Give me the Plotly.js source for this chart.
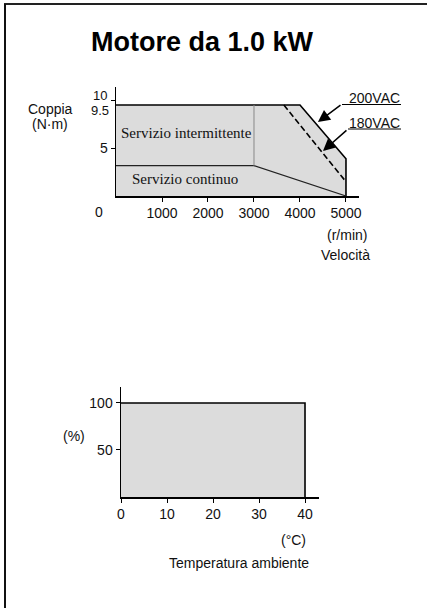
<!DOCTYPE html>
<html>
<head>
<meta charset="utf-8">
<script src="https://cdn.plot.ly/plotly-3.0.1.min.js"></script>
<style>html,body{margin:0;padding:0;background:#fff;}#chart{width:427px;height:608px;}</style>
</head>
<body>
<div id="chart"></div>
<script>
// Torque–speed curve (1.0 kW motor)
const peakSpeed = [0, 4000, 5000, 5000];      // r/min, 200VAC intermittent boundary
const peakTorque = [9.55, 9.55, 3.9, 0];       // N·m
const contSpeed = [0, 3000, 5000];             // r/min, continuous boundary
const contTorque = [3.18, 3.18, 0];            // N·m
const splitSpeed = [3000, 3000];
const splitTorque = [3.18, 9.55];
const vac180Speed = [3650, 5000];              // dashed 180VAC limit
const vac180Torque = [9.55, 1.5];
const speedTicks = [1000, 2000, 3000, 4000, 5000];
const torqueTicks = [5, 10];

// Ambient temperature derating
const tempX = [0, 40, 40];                     // °C
const ratioY = [100, 100, 0];                  // %
const tempTicks = [0, 10, 20, 30, 40];
const ratioTicks = [50, 100];

const W = 427, H = 608;
const px = x => x / W;
const py = y => 1 - y / H;
const sans = "'Liberation Sans', Arial, sans-serif";
const serif = "'Liberation Serif', 'Times New Roman', serif";
const fill = '#dcdcdc';

const traces = [
  {x: peakSpeed, y: peakTorque, xaxis: 'x', yaxis: 'y', mode: 'lines', fill: 'tozeroy', fillcolor: fill,
   line: {color: '#000', width: 1.6}},
  {x: contSpeed, y: contTorque, xaxis: 'x', yaxis: 'y', mode: 'lines', line: {color: '#222', width: 1.2}},
  {x: splitSpeed, y: splitTorque, xaxis: 'x', yaxis: 'y', mode: 'lines', line: {color: '#888', width: 1}},
  {x: vac180Speed, y: vac180Torque, xaxis: 'x', yaxis: 'y', mode: 'lines', line: {color: '#000', width: 1.6, dash: '6px,3px'}},
  {x: tempX, y: ratioY, xaxis: 'x2', yaxis: 'y2', mode: 'lines', fill: 'tozeroy', fillcolor: fill,
   line: {color: '#000', width: 1.6}}
];

const axBase = {showgrid: false, zeroline: false, showline: true, linecolor: '#000', linewidth: 1.5,
  ticks: 'outside', ticklen: 4, tickcolor: '#000', tickfont: {family: sans, size: 14, color: '#111'}, fixedrange: true};

function ann(text, x, y, size, extra) {
  return Object.assign({text: text, x: px(x), y: py(y), xref: 'paper', yref: 'paper', showarrow: false,
    xanchor: 'center', yanchor: 'middle', font: {family: sans, size: size, color: '#111'}}, extra || {});
}

const layout = {
  width: W, height: H, margin: {l: 0, r: 0, t: 0, b: 0}, paper_bgcolor: '#fff', plot_bgcolor: 'rgba(0,0,0,0)',
  showlegend: false,
  title: {text: '<b>Motore da 1.0 kW</b>', x: px(202), y: py(42), xanchor: 'center', yanchor: 'middle',
    xref: 'paper', yref: 'paper', font: {family: sans, size: 27, color: '#000'}},
  xaxis: Object.assign({}, axBase, {domain: [px(116), px(359)], range: [0, 5283], anchor: 'y',
    tickvals: speedTicks, ticktext: speedTicks.map(String)}),
  yaxis: Object.assign({}, axBase, {domain: [py(196), py(87)], range: [0, 11.44], anchor: 'x',
    tickvals: torqueTicks, ticktext: ['5', '']}),
  xaxis2: Object.assign({}, axBase, {domain: [px(121), px(319)], range: [0, 43.04], anchor: 'y2',
    tickvals: tempTicks, ticktext: tempTicks.map(String)}),
  yaxis2: Object.assign({}, axBase, {domain: [py(497), py(387)], range: [0, 117], anchor: 'x2',
    tickvals: ratioTicks, ticktext: ratioTicks.map(String)}),
  annotations: [
    ann('0', 99, 212, 14),
    ann('10', 100, 95, 13),
    ann('9.5', 100, 111, 13),
    ann('Coppia', 50, 109, 14),
    ann('(N·m)', 50, 124, 14),
    ann('(r/min)', 347, 235, 14),
    ann('Velocità', 345, 255, 14),
    ann('Servizio intermittente', 186, 133, 15, {font: {family: serif, size: 15, color: '#111'}}),
    ann('Servizio continuo', 185, 179, 15, {font: {family: serif, size: 15, color: '#111'}}),
    ann('200VAC', 374, 98, 14),
    ann('180VAC', 374, 123, 14),
    ann('(%)', 74, 436, 14),
    ann('(°C)', 293, 540, 14),
    ann('Temperatura ambiente', 239, 563, 14),
    {x: 4391, y: 7.76, xref: 'x', yref: 'y', ax: 4913, ay: 9.65, axref: 'x', ayref: 'y', text: '',
      showarrow: true, arrowhead: 2, arrowsize: 1.6, arrowwidth: 1.5, arrowcolor: '#000'},
    {x: 4500, y: 4.72, xref: 'x', yref: 'y', ax: 5043, ay: 7.03, axref: 'x', ayref: 'y', text: '',
      showarrow: true, arrowhead: 2, arrowsize: 1.6, arrowwidth: 1.5, arrowcolor: '#000'}
  ],
  shapes: [
    {type: 'line', xref: 'paper', yref: 'paper', x0: px(342), x1: px(401), y0: py(104.5), y1: py(104.5), line: {color: '#000', width: 1}},
    {type: 'line', xref: 'paper', yref: 'paper', x0: px(348), x1: px(401), y0: py(129), y1: py(129), line: {color: '#000', width: 1}},
    {type: 'line', xref: 'paper', yref: 'paper', x0: px(4), x1: 1, y0: py(4), y1: py(4), line: {color: '#222', width: 2}},
    {type: 'line', xref: 'paper', yref: 'paper', x0: px(5), x1: px(5), y0: py(4), y1: 0, line: {color: '#111', width: 2}}
  ]
};

Plotly.newPlot('chart', traces, layout, {staticPlot: true, displayModeBar: false});
</script>
</body>
</html>
